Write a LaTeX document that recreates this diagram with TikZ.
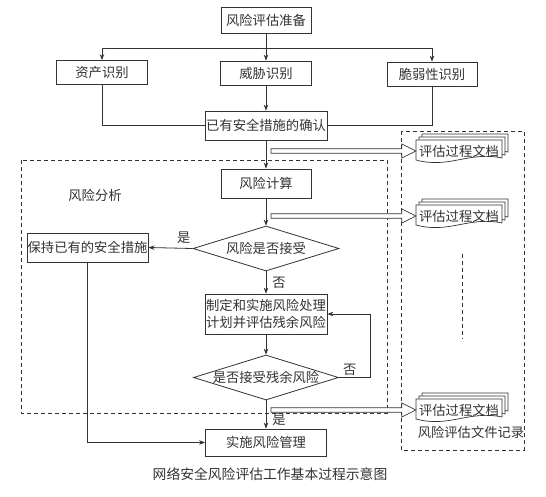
\documentclass[tikz,border=0pt]{standalone}
\usepackage{fontspec}
\newfontfamily\cjk{Noto Sans CJK SC}
\usetikzlibrary{shapes.geometric,arrows.meta,calc}
\definecolor{ink}{gray}{0.2}
\tikzset{
  box/.style={draw=ink, line width=0.8pt, inner sep=0pt, text=ink, fill=white},
  dia/.style={diamond, draw=ink, line width=0.8pt, aspect=3.2, inner sep=-1pt, text=ink, fill=white},
  arr/.style={draw=ink, line width=0.8pt, -{Stealth[length=6pt,width=4.5pt]}},
  ln/.style={draw=ink, line width=0.8pt},
  dbox/.style={draw=ink, line width=0.8pt, dash pattern=on 4pt off 3pt},
  hollow/.style={draw=ink, line width=0.7pt, fill=white},
  docline/.style={draw=ink, line width=0.7pt, fill=white},
  lbl/.style={text=ink, inner sep=0pt},
  docnode/.style={text=ink, inner sep=0pt, minimum width=86pt, minimum height=22pt}
}
\newcommand\mydoc[3]{%
  \foreach \o in {6,3,0}{%
    \draw[docline] ({#2-43+\o},{#3-11-\o}) -- ({#2+43+\o},{#3-11-\o}) -- ({#2+43+\o},{#3+7-\o})
      .. controls ({#2+10+\o},{#3-\o}) and ({#2-10+\o},{#3+18-\o}) .. ({#2-43+\o},{#3+9-\o}) -- cycle;}
  \node[docnode] (#1) at (#2,#3) {评估过程文档};
}
\newcommand\hollowarrow[2]{%
  \draw[hollow] ($(#1)+(0,-2.3)$) -- ($(#2)+(-14,-2.3)$) -- ($(#2)+(-14,-7)$) -- (#2)
    -- ($(#2)+(-14,7)$) -- ($(#2)+(-14,2.3)$) -- ($(#1)+(0,2.3)$) -- cycle;
}
\begin{document}
\begin{tikzpicture}[x=1pt, y=-1pt, font=\cjk\fontsize{13.3}{17}\selectfont]
\useasboundingbox (0,0) rectangle (546,496);
\fill[white] (0,0) rectangle (546,496);

% dashed regions
\draw[dbox] (21,160) rectangle (387,413);
\node[lbl] (fxfx) at (95,195) {风险分析};
\draw[dbox] (401,131) rectangle (524,450);
\node[lbl] (wjjl) at (471,432) {风险评估文件记录};
\coordinate (vt) at (462,254);
\coordinate (vb) at (462,339);
\draw[dbox] (vt) -- (vb);

% nodes
\node[box, minimum width=90pt, minimum height=26pt] (prep) at (266,20) {风险评估准备};
\node[box, minimum width=91pt, minimum height=24pt] (asset) at (102,72.5) {资产识别};
\node[box, minimum width=91pt, minimum height=24pt] (threat) at (266,73) {威胁识别};
\node[box, minimum width=90pt, minimum height=24pt] (vuln) at (432,74) {脆弱性识别};
\node[box, minimum width=122pt, minimum height=29pt] (conf) at (266,125.5) {已有安全措施的确认};
\node[box, minimum width=90pt, minimum height=29pt] (calc) at (266,183.5) {风险计算};
\node[dia, minimum width=146pt, minimum height=45pt] (d1) at (266,248.5) {风险是否接受};
\node[box, minimum width=121pt, minimum height=29pt] (keep) at (87.5,247.5) {保持已有的安全措施};
\node[box, minimum width=122pt, minimum height=40pt, align=center] (plan) at (266,314) {制定和实施风险处理\\计划并评估残余风险};
\node[dia, minimum width=145pt, minimum height=45pt] (d2) at (266,377.5) {是否接受残余风险};
\node[box, minimum width=121pt, minimum height=27pt] (impl) at (266,442.5) {实施风险管理};

% connectors
\draw[arr] (prep) -- (threat);
\draw[arr] (prep.south) -- ++(0,15) -| (asset.north);
\draw[arr] (prep.south) -- ++(0,15) -| (vuln.north);
\draw[ln] (asset.south) |- (conf.west);
\draw[ln] (vuln.south) |- (conf.east);
\draw[arr] (threat) -- (conf);
\draw[arr] (conf) -- (calc);
\draw[arr] (calc) -- (d1);
\draw[arr] (d1.west) -- (keep.east) node[lbl, pos=0.2, above=4pt] {是};
\draw[arr] (d1.south) -- (plan.north) node[lbl, midway, right=6pt] {否};
\draw[arr] (plan) -- (d2);
\draw[arr] (d2.east) -- ++(31,0) node[lbl, pos=0.35, above=2pt] {否} |- (plan.east);
\draw[arr] (d2.south) -- (impl.north) node[lbl, pos=0.7, right=6pt] {是};
\draw[arr] (keep.south) |- (impl.west);

% documents
\mydoc{doc1}{459}{151}
\mydoc{doc2}{459}{216}
\mydoc{doc3}{459}{410}
\coordinate (s1) at (271,151);
\coordinate (s2) at (271,216);
\coordinate (s3) at (271,410);
\hollowarrow{s1}{doc1.west}
\hollowarrow{s2}{doc2.west}
\hollowarrow{s3}{doc3.west}

% caption
\node[lbl, font=\cjk\fontsize{13.8}{16}\selectfont] (cap) at (270,474) {网络安全风险评估工作基本过程示意图};
\end{tikzpicture}
\end{document}
